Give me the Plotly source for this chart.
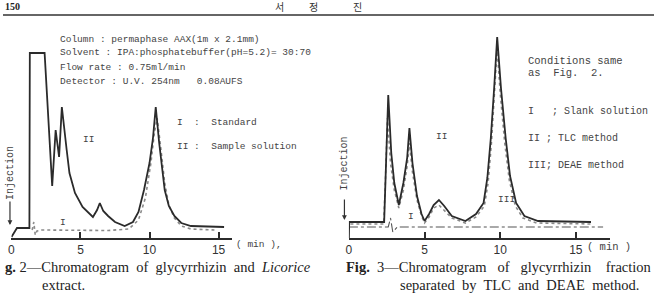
import plotly.graph_objects as go

W, H = 654, 300

# ---------------- data (time in min, detector response in arbitrary units) ----------------
# Fig. 2 : II sample solution (solid)
f2_sample_t = [0, 0.4, 1.3, 1.33, 2.4, 2.95, 3.2, 3.45, 3.65, 3.8, 4.0, 4.2, 4.6, 5.15, 5.6, 5.9,
               6.2, 6.4, 6.65, 7.0, 7.5, 8.2, 8.8, 9.2, 9.6, 10.0, 10.25, 10.45, 10.7, 10.9, 11.1,
               11.4, 11.8, 12.3, 13.0, 15.4]
f2_sample_h = [1, 10, 10, 185, 185, 52, 108, 81, 131, 110, 88, 65, 45, 31, 25, 21,
               28, 35, 27, 22, 16, 12, 16, 26, 48, 75, 100, 131, 95, 70, 48,
               32, 22, 15, 12, 11]
# Fig. 2 : I standard (dotted)
f2_std_t = [1.5, 1.62, 1.72, 1.85, 2.2, 3.0, 5.0, 7.0, 8.5, 9.2, 9.7, 10.1, 10.35, 10.55, 10.8,
            11.1, 11.4, 11.8, 12.3, 13.0, 14.7]
f2_std_h = [8, 16, 3, 7, 8, 8, 7.5, 7.5, 9, 18, 40, 75, 105, 120, 92,
            55, 33, 20, 12, 9, 8]

# Fig. 3 : II TLC method (solid)
f3_tlc_t = [0, 0.02, 2.33, 2.45, 2.6, 2.8, 3.0, 3.3, 3.6, 3.85, 4.0, 4.2, 4.5, 4.8, 5.0, 5.3,
            5.6, 5.95, 6.3, 6.8, 7.7, 8.4, 8.9, 9.15, 9.38, 9.6, 9.8, 10.05, 10.36, 10.65, 11.05,
            11.6, 12.5, 16.0]
f3_tlc_h = [0, 16, 16, 70, 143, 85, 55, 33, 55, 80, 110, 75, 42, 24, 17, 24,
            33, 38, 32, 22, 17, 24, 35, 60, 100, 150, 201, 150, 100, 62, 35,
            22, 17, 16]
# Fig. 3 : III DEAE method (dotted)
f3_deae_t = [0.1, 2.3, 2.42, 2.55, 2.75, 3.0, 3.3, 3.6, 3.85, 4.0, 4.2, 4.5, 4.8, 5.0, 5.3,
             5.6, 5.95, 6.3, 6.8, 7.7, 8.4, 8.95, 9.2, 9.42, 9.62, 9.8, 10.0, 10.3, 10.6, 11.0,
             11.5, 12.4, 16.0]
f3_deae_h = [14, 14, 60, 120, 75, 48, 30, 48, 72, 95, 66, 38, 22, 15, 21,
             30, 33, 28, 20, 15, 21, 32, 55, 95, 145, 190, 145, 95, 58, 32,
             20, 15, 14]
# Fig. 3 : I blank solution (dash-dot)
f3_blank_t = [0, 2.6, 2.75, 2.9, 3.2, 16.8]
f3_blank_h = [11, 11, 20, 6, 11, 11]

tick_vals = [0, 5, 10, 15]
tick_text = ["0", "5", "10", "15"]

# ---------------- figure ----------------
fig = go.Figure()

def px2x(px):
    return px / W

def py2y(py):
    return 1 - py / H

INK = "#2b2b2b"
GREY = "#8a8a8a"

fig.add_trace(go.Scatter(x=f2_std_t, y=f2_std_h, mode="lines", xaxis="x", yaxis="y",
                         line=dict(color=GREY, width=1.6, dash="dot"), hoverinfo="skip"))
fig.add_trace(go.Scatter(x=f2_sample_t, y=f2_sample_h, mode="lines", xaxis="x", yaxis="y",
                         line=dict(color=INK, width=1.8), hoverinfo="skip"))
fig.add_trace(go.Scatter(x=f3_blank_t, y=f3_blank_h, mode="lines", xaxis="x2", yaxis="y2",
                         line=dict(color="#555", width=1.1, dash="dashdot"), hoverinfo="skip"))
fig.add_trace(go.Scatter(x=f3_deae_t, y=f3_deae_h, mode="lines", xaxis="x2", yaxis="y2",
                         line=dict(color=GREY, width=1.6, dash="dot"), hoverinfo="skip"))
fig.add_trace(go.Scatter(x=f3_tlc_t, y=f3_tlc_h, mode="lines", xaxis="x2", yaxis="y2",
                         line=dict(color=INK, width=1.8), hoverinfo="skip"))

ydom = [py2y(238), py2y(20)]
xcommon = dict(showline=True, linecolor=INK, linewidth=2, ticks="inside", ticklen=6,
               tickwidth=1.5, tickcolor=INK, tickvals=tick_vals, ticktext=tick_text,
               showgrid=False, zeroline=False,
               tickfont=dict(family="Liberation Sans", size=12, color="#333"))
fig.update_layout(
    width=W, height=H, margin=dict(l=0, r=0, t=0, b=0),
    paper_bgcolor="white", plot_bgcolor="white", showlegend=False,
    xaxis=dict(domain=[px2x(8.5), px2x(230)], range=[0, (230 - 8.5) / 13.87], anchor="y", **xcommon),
    yaxis=dict(domain=ydom, range=[0, 218], visible=False, anchor="x"),
    xaxis2=dict(domain=[px2x(347.5), px2x(610)], range=[0, (610 - 347.5) / 15.2], anchor="y2", **xcommon),
    yaxis2=dict(domain=ydom, range=[0, 218], visible=False, anchor="x2"),
)

MONO = "Liberation Mono"
SERIF = "Liberation Serif"

def txt(x, y, s, size=9.5, family=MONO, color="#444", xanchor="left", angle=0):
    fig.add_annotation(x=px2x(x), y=py2y(y), xref="paper", yref="paper", text=s, showarrow=False,
                       xanchor=xanchor, yanchor="middle", textangle=angle,
                       font=dict(family=family, size=size, color=color))

# header
txt(0, 7, "<b>150</b>", size=10, family=SERIF, color="#222")
txt(278, 7, "서", size=10, family="Noto Sans CJK KR", color="#333", xanchor="center")
txt(312, 7, "정", size=10, family="Noto Sans CJK KR", color="#333", xanchor="center")
txt(356, 7, "진", size=10, family="Noto Sans CJK KR", color="#333", xanchor="center")
fig.add_shape(type="line", xref="paper", yref="paper", x0=0, x1=1, y0=py2y(15), y1=py2y(15),
              line=dict(color="#333", width=1.5))

# left conditions text
txt(55, 40, "Column : permaphase AAX(1m x 2.1mm)")
txt(55, 53, "Solvent : IPA:phosphatebuffer(pH=5.2)= 30:70")
txt(55, 67, "Flow rate : 0.75ml/min")
txt(55, 81, "Detector : U.V. 254nm   0.08AUFS")
txt(173, 123, "I  :  Standard")
txt(173, 146, "II :  Sample solution")
txt(78, 139, "II")
txt(55, 222, "I")
txt(232, 244, "( min ),")

# right conditions text
txt(525, 61, "Conditions same", size=10.5)
txt(525, 73, "as  Fig.  2.", size=10.5)
txt(525, 112, "I   ; Slank solution", size=10)
txt(525, 138, "II ; TLC method", size=10)
txt(525, 165, "III; DEAE method", size=10)
txt(433, 136, "II")
txt(405, 216, "I")
txt(495, 199, "III")
txt(585, 247, "( min )", size=10.5)

# injection marks
for xi, yc, y0, y1 in [(7, 173, 200, 225), (343, 163, 198, 220)]:
    txt(xi, yc, "Injection", size=10, xanchor="center", angle=-90)
    fig.add_annotation(x=px2x(xi), y=py2y(y1), xref="paper", yref="paper", text="",
                       showarrow=True, axref="pixel", ayref="pixel", ax=0, ay=-(y1 - y0),
                       arrowhead=2, arrowsize=0.8, arrowwidth=1.2, arrowcolor="#333")

# captions
txt(0, 267, "<b>g.</b> 2—Chromatogram  of  glycyrrhizin  and  <i>Licorice</i>", size=14.5, family=SERIF, color="#222")
txt(37, 285, "extract.", size=14.5, family=SERIF, color="#222")
txt(343, 267, "<b>Fig.</b>  3—Chromatogram   of   glycyrrhizin    fraction", size=14.5, family=SERIF, color="#222")
txt(397, 285, "separated  by  TLC  and  DEAE  method.", size=14.5, family=SERIF, color="#222")

fig.write_html("out.html")
